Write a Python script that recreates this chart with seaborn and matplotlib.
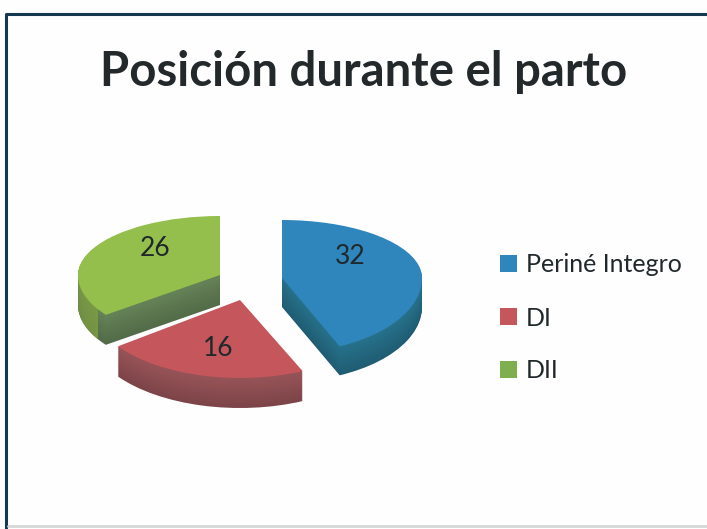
import matplotlib
matplotlib.use("Agg")
import matplotlib.pyplot as plt
import seaborn as sns
from matplotlib.patches import Patch
from matplotlib.transforms import Bbox

categories = ["Periné Integro", "DI", "DII"]
values = [32, 16, 26]
title = "Posición durante el parto"

top_colors = ["#2f86bd", "#c4565c", "#94bf4c"]
wall_colors = ["#23677f", "#8a4c50", "#5c7750"]
rim_colors = ["#23677f", "#8a4c50", "#7f9f42"]
legend_colors = ["#2f86bd", "#c4565c", "#7fae4f"]

W, H = 707, 529
sns.set_theme(style="white")
plt.rcParams["font.family"] = ["Lato", "DejaVu Sans"]

fig = plt.figure(figsize=(W / 100, H / 100), dpi=100, facecolor="#fefefe")

base = fig.add_axes([0, 0, 1, 1], zorder=0)
base.set_xlim(0, W)
base.set_ylim(H, 0)
base.axis("off")
base.plot([5.5, 5.5, 707], [529, 14, 14], color="#16384f", lw=2.2)
base.plot([8, 707], [526, 526], color="#d6d8d8", lw=2.0)

# geometry of each slice: centre x, centre y, rx, back ry, front ry, depth
geometry = [
    (282, 278, 140, 58, 75, 29),
    (240, 300, 152, 60, 78, 30),
    (220, 275, 142, 59, 67, 30),
]
rim_limit = [None, None, 98]


def single(ax, i, cx, cy, color):
    cols = [color if j == i else "none" for j in range(len(values))]
    wedges, _ = ax.pie(values, startangle=90, counterclock=False, radius=geometry[i][2],
                       center=(cx, cy), colors=cols, frame=True,
                       wedgeprops={"linewidth": 0})
    wedges[i].set_clip_on(True)
    return wedges[i]


def shade(color, t):
    r, g, b = matplotlib.colors.to_rgb(color)
    k = 1.1 - 0.2 * t
    return (min(r * k, 1), min(g * k, 1), min(b * k, 1))


for i in [2, 1, 0]:
    cx, cy, rx, ry_back, ry_front, depth = geometry[i]
    for front, ry in [(False, ry_back), (True, ry_front)]:
        ax = fig.add_axes([0, 0, 1, 1], zorder=1 + (2 - i))
        ax.patch.set_alpha(0)
        scale = rx / ry
        yc = (H - cy) * scale
        for d in range(depth, -1, -1):
            color = top_colors[i] if d == 0 else shade(wall_colors[i], d / depth)
            w = single(ax, i, cx, yc - d * scale, color)
            y_cut = H - (cy + d)
            w.set_clip_box(Bbox([[0, 0], [W, y_cut]]) if front else Bbox([[0, y_cut], [W, H]]))
            if d > 0 and rim_limit[i] is not None:
                w2 = single(ax, i, cx, yc - d * scale, rim_colors[i])
                w2.set_clip_box(Bbox([[0, 0], [rim_limit[i], y_cut]]) if front
                                else Bbox([[0, y_cut], [rim_limit[i], H]]))
        ax.set_aspect("auto")
        ax.set_xlim(0, W)
        ax.set_ylim(0, H * scale)
        ax.axis("off")

top = fig.add_axes([0, 0, 1, 1], zorder=10)
top.set_xlim(0, W)
top.set_ylim(H, 0)
top.axis("off")
top.patch.set_alpha(0)

top.text(363.5, 72, title, fontsize=34, fontweight="bold", color="#23282b", ha="center", va="center")
label_pos = [(350, 256), (218, 349), (155, 248)]
for v, (x, y) in zip(values, label_pos):
    top.text(x, y, str(v), fontsize=19, color="#20282b", ha="center", va="center")

handles = [Patch(facecolor=c, edgecolor="none") for c in legend_colors]
top.legend(handles, categories, loc="center left", bbox_to_anchor=(477 / W, 1 - 318 / H),
           bbox_transform=fig.transFigure, frameon=False, fontsize=18, handlelength=0.68,
           handleheight=0.68, handletextpad=0.36, labelspacing=1.2, labelcolor="#20282b")

fig.savefig("out.png", dpi=100, facecolor=fig.get_facecolor())
